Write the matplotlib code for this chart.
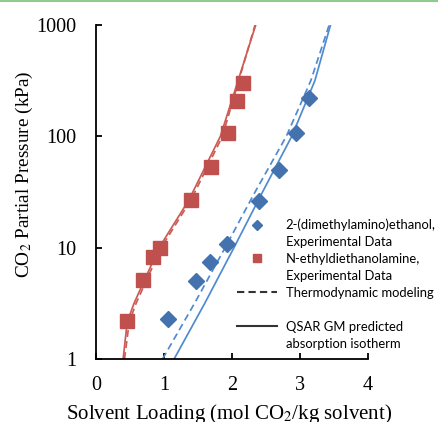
import numpy as np
import matplotlib
matplotlib.use("Agg")
import matplotlib.pyplot as plt
from matplotlib.lines import Line2D

# experimental data (loading in mol CO2/kg solvent, pressure in kPa)
dmae_load = [1.06, 1.47, 1.68, 1.93, 2.40, 2.69, 2.94, 3.13]
dmae_p = [2.3, 5.0, 7.4, 10.8, 26, 50, 107, 222]

edea_load = [0.46, 0.69, 0.84, 0.94, 1.40, 1.69, 1.94, 2.07, 2.16]
edea_p = [2.2, 5.1, 8.2, 10, 27, 53, 107, 209, 302]

# model curves
dmae_thermo_load = [0.98, 1.45, 1.90, 2.34, 2.80, 3.16, 3.43]
dmae_thermo_p = [1, 3.16, 10, 31.6, 100, 316, 1000]
dmae_qsar_load = [1.15, 1.60, 2.03, 2.45, 2.88, 3.22, 3.45]
dmae_qsar_p = [1, 3.16, 10, 31.6, 100, 316, 1000]

edea_thermo_load = [0.42, 0.49, 0.59, 0.96, 1.40, 1.86, 2.10, 2.34]
edea_thermo_p = [1, 2.14, 3.16, 10, 27, 100, 316, 1000]
edea_qsar_load = [0.40, 0.46, 0.56, 0.93, 1.37, 1.83, 2.08, 2.35]
edea_qsar_p = [1, 2.14, 3.16, 10, 27, 100, 302, 1000]

RED = "#C0504D"
RED_LINE = "#CC5B55"
BLUE = "#4472AE"
BLUE_LINE = "#4F8BD0"

plt.rcParams["mathtext.fontset"] = "stix"

fig = plt.figure(figsize=(4.38, 4.22), dpi=100)
ax = fig.add_axes([0.219, 0.1493, 0.621, 0.7915])

dash = (0, (4, 2.4))
ax.plot(edea_qsar_load, edea_qsar_p, color=RED_LINE, lw=1.25)
ax.plot(edea_thermo_load, edea_thermo_p, color=RED_LINE, lw=1.25, ls=dash)
ax.plot(dmae_qsar_load, dmae_qsar_p, color=BLUE_LINE, lw=1.25)
ax.plot(dmae_thermo_load, dmae_thermo_p, color=BLUE_LINE, lw=1.25, ls=dash)

ax.plot(edea_load, edea_p, "s", color=RED, ms=9.5, mec=RED)
ax.plot(dmae_load, dmae_p, "D", color=BLUE, ms=8, mec=BLUE)

ax.set_yscale("log")
ax.set_xlim(0, 4)
ax.set_ylim(1, 1000)
ax.set_xticks([0, 1, 2, 3, 4])
ax.set_yticks([1, 10, 100, 1000])
ax.set_yticklabels(["1", "10", "100", "1000"])
ax.yaxis.set_minor_locator(matplotlib.ticker.NullLocator())

for s in ["top", "right"]:
    ax.spines[s].set_visible(False)
for s in ["left", "bottom"]:
    ax.spines[s].set_linewidth(1.3)
ax.tick_params(direction="in", length=4, width=1.3, labelsize=14.5,
               labelfontfamily="Liberation Serif")
ax.tick_params(axis="x", pad=12)
ax.tick_params(axis="y", pad=14)

ax.set_xlabel("Solvent Loading (mol CO$_2$/kg solvent)", fontsize=15,
              family="Liberation Serif")
ax.set_ylabel("CO$_2$ Partial Pressure (kPa)", fontsize=13.9,
              family="Liberation Serif")
ax.xaxis.set_label_coords(0.49, -0.13)
ax.yaxis.set_label_coords(-0.225, 0.552)

# one legend row per text line, marker on the first line of each entry
blank = Line2D([], [], ls="none")
handles = [
    Line2D([], [], ls="none", marker="D", color=BLUE, ms=5.5), blank,
    Line2D([], [], ls="none", marker="s", color=RED, ms=6), blank,
    Line2D([], [], color="#333333", lw=1.5, ls=(0, (3.5, 2))),
    blank,
    Line2D([], [], color="#333333", lw=1.5), blank,
]
labels = [
    "2-(dimethylamino)ethanol,", "Experimental Data",
    "N-ethyldiethanolamine,", "Experimental Data",
    "Thermodynamic modeling",
    " ",
    "QSAR GM predicted", "absorption isotherm",
]
leg = ax.legend(handles, labels, loc="upper left", bbox_to_anchor=(0.518, 0.42),
                frameon=False, borderpad=0, borderaxespad=0, labelspacing=0.375,
                handlelength=3.1, handletextpad=0.65,
                prop={"family": "Lato", "size": 9.4})

fig.add_artist(Line2D([0, 1], [0.998, 0.998], transform=fig.transFigure,
                      color="#8FCB8F", lw=1.5))

fig.savefig("out.png", dpi=100)
